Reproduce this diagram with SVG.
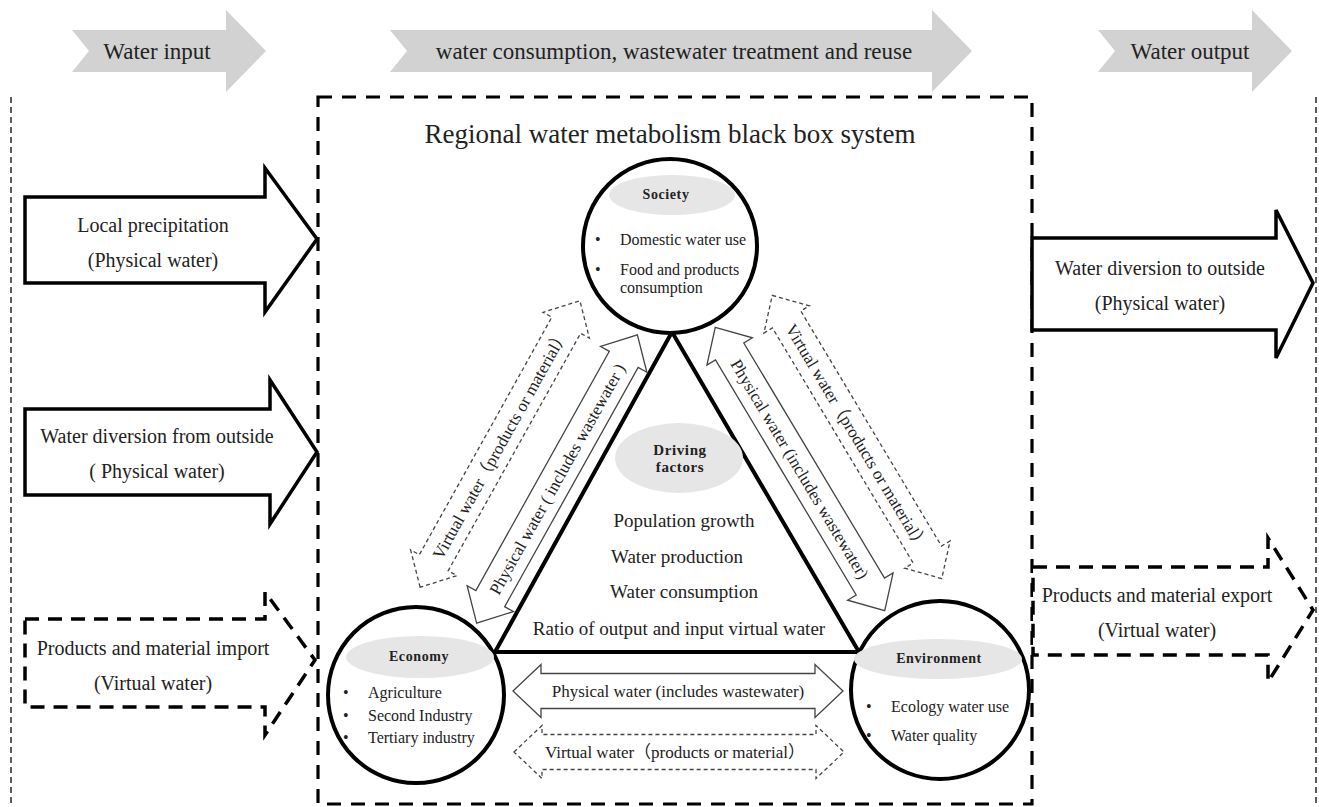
<svg xmlns="http://www.w3.org/2000/svg" width="1319" height="807" viewBox="0 0 1319 807">
<defs>
<style>
text{font-family:"Liberation Serif","Times New Roman","Noto Sans CJK SC",serif;fill:#222}
.hdr{fill:#d2d2d2;stroke:none}
.ht{font-size:23px;text-anchor:middle}
.big{fill:#fff;stroke:#000;stroke-width:3.5;stroke-linejoin:miter}
.bigd{fill:#fff;stroke:#000;stroke-width:3.5;stroke-dasharray:14 9}
.box{fill:none;stroke:#000;stroke-width:3.2;stroke-dasharray:14 10}
.dot{fill:none;stroke:#333;stroke-width:1.6;stroke-dasharray:6 4}
.bt{font-size:20px;text-anchor:middle}
.circ{fill:#fff;stroke:#000;stroke-width:4}
.lab{fill:#e6e6e6;stroke:none}
.lt{font-size:14px;font-weight:bold;text-anchor:middle;letter-spacing:0.6px}
.it{font-size:16px}
.tri{fill:#fff;stroke:#000;stroke-width:4;stroke-linejoin:miter}
.df{font-size:19px;text-anchor:middle}
.cs{fill:#fff;stroke:#444;stroke-width:1.3}
.cd{fill:#fff;stroke:#444;stroke-width:1.3;stroke-dasharray:4 3}
.ct{font-size:17px;text-anchor:middle}
</style>
</defs>
<rect width="1319" height="807" fill="#fff"/>

<g id="header">
<polygon class="hdr" points="72,30 226,30 226,10 266,51 226,92 226,72 72,72 89,51"/>
<text class="ht" x="157" y="59">Water input</text>
<polygon class="hdr" points="390,30 932,30 932,10 972,51 932,92 932,72 390,72 407,51"/>
<text class="ht" x="674" y="59">water consumption, wastewater treatment and reuse</text>
<polygon class="hdr" points="1098,30 1252,30 1252,10 1292,51 1252,92 1252,72 1098,72 1115,51"/>
<text class="ht" x="1190" y="59">Water output</text>
</g>

<g id="frame">
<line class="dot" x1="11" y1="97" x2="11" y2="807"/>
<line class="dot" x1="1316" y1="97" x2="1316" y2="807"/>
<rect class="box" x="318" y="97" width="714" height="707"/>
<text x="670" y="143" style="font-size:27px;text-anchor:middle">Regional water metabolism black box system</text>
</g>

<g id="input-precipitation">
<polygon class="big" points="25,197 265,197 265,168 317,239 265,312 265,283 25,283"/>
<text class="bt" x="153" y="232">Local precipitation</text>
<text class="bt" x="153" y="267">(Physical water)</text>
</g>

<g id="input-diversion">
<polygon class="big" points="25,409 270,409 270,380 317,452 270,524 270,495 25,495"/>
<text class="bt" x="157" y="443">Water diversion from outside</text>
<text class="bt" x="157" y="478">( Physical water)</text>
</g>

<g id="input-import">
<polygon class="bigd" points="25,619 265,619 265,592 315,660 265,735 265,707 25,707"/>
<text class="bt" x="153" y="655">Products and material import</text>
<text class="bt" x="153" y="690">(Virtual water)</text>
</g>

<g id="output-diversion">
<polygon class="big" points="1032,238 1276,238 1276,210 1313,283 1276,358 1276,330 1032,330"/>
<text class="bt" x="1160" y="275">Water diversion to outside</text>
<text class="bt" x="1160" y="310">(Physical water)</text>
</g>

<g id="output-export">
<polygon class="bigd" points="1033,567 1268,567 1268,538 1313,610 1268,682 1268,655 1033,655"/>
<text class="bt" x="1157" y="602">Products and material export</text>
<text class="bt" x="1157" y="637">(Virtual water)</text>
</g>

<g id="driving-factors">
<polygon class="tri" points="672,332 495,652 859,652"/>
<ellipse class="lab" cx="679" cy="458" rx="64" ry="35"/>
<text class="lt" x="680" y="455" style="font-size:15px">Driving</text>
<text class="lt" x="680" y="472" style="font-size:15px">factors</text>
<text class="df" x="684" y="527">Population growth</text>
<text class="df" x="677" y="563">Water production</text>
<text class="df" x="684" y="598">Water consumption</text>
<text class="df" x="679" y="635">Ratio of output and input virtual water</text>
</g>

<g id="connectors">
<g transform="translate(500,444) rotate(-60.85)">
<path class="cd" d="M-164,0 L-136,-26.5 L-136,-16.5 L136,-16.5 L136,-26.5 L164,0 L136,26.5 L136,16.5 L-136,16.5 L-136,26.5 Z"/>
<text class="ct" x="0" y="6">Virtual water（products or material）</text>
</g>
<g transform="translate(557,479) rotate(-60.85)">
<path class="cs" d="M-165,0 L-137,-26.5 L-137,-16.5 L137,-16.5 L137,-26.5 L165,0 L137,26.5 L137,16.5 L-137,16.5 L-137,26.5 Z"/>
<text class="ct" x="0" y="6">Physical water ( includes wastewater )</text>
</g>
<g transform="translate(800,469) rotate(59.1)">
<path class="cs" d="M-165,0 L-137,-26.5 L-137,-16.5 L137,-16.5 L137,-26.5 L165,0 L137,26.5 L137,16.5 L-137,16.5 L-137,26.5 Z"/>
<text class="ct" x="0" y="6">Physical water (includes wastewater)</text>
</g>
<g transform="translate(857,437) rotate(59.1)">
<path class="cd" d="M-165,0 L-137,-26.5 L-137,-16.5 L137,-16.5 L137,-26.5 L165,0 L137,26.5 L137,16.5 L-137,16.5 L-137,26.5 Z"/>
<text class="ct" x="0" y="6">Virtual water（products or material）</text>
</g>
<g transform="translate(678,691)">
<path class="cs" d="M-165,0 L-137,-26.5 L-137,-17.5 L137,-17.5 L137,-26.5 L165,0 L137,26.5 L137,17.5 L-137,17.5 L-137,26.5 Z"/>
<text class="ct" x="0" y="6">Physical water (includes wastewater)</text>
</g>
<g transform="translate(679,752)">
<path class="cd" d="M-165,0 L-137,-26.5 L-137,-17.5 L137,-17.5 L137,-26.5 L165,0 L137,26.5 L137,17.5 L-137,17.5 L-137,26.5 Z"/>
<text class="ct" x="-4" y="6">Virtual water（products or material）</text>
</g>
</g>

<g id="society">
<circle class="circ" cx="670" cy="246" r="87"/>
<ellipse class="lab" cx="672" cy="195" rx="63" ry="20"/>
<text class="lt" x="666" y="199">Society</text>
<text class="it" x="595" y="245">•</text>
<text class="it" x="620" y="245">Domestic water use</text>
<text class="it" x="595" y="275">•</text>
<text class="it" x="620" y="275">Food and products</text>
<text class="it" x="620" y="293">consumption</text>
</g>

<g id="economy">
<circle class="circ" cx="416" cy="695" r="88"/>
<ellipse class="lab" cx="420" cy="657" rx="74" ry="21"/>
<text class="lt" x="419" y="661">Economy</text>
<text class="it" x="343" y="698">•</text>
<text class="it" x="368" y="698">Agriculture</text>
<text class="it" x="343" y="721">•</text>
<text class="it" x="368" y="721">Second Industry</text>
<text class="it" x="343" y="743">•</text>
<text class="it" x="368" y="743">Tertiary industry</text>
</g>

<g id="environment">
<circle class="circ" cx="940" cy="690" r="89"/>
<ellipse class="lab" cx="938" cy="659" rx="84" ry="20"/>
<text class="lt" x="939" y="663">Environment</text>
<text class="it" x="866" y="712">•</text>
<text class="it" x="891" y="712">Ecology water use</text>
<text class="it" x="866" y="741">•</text>
<text class="it" x="891" y="741">Water quality</text>
</g>
</svg>
